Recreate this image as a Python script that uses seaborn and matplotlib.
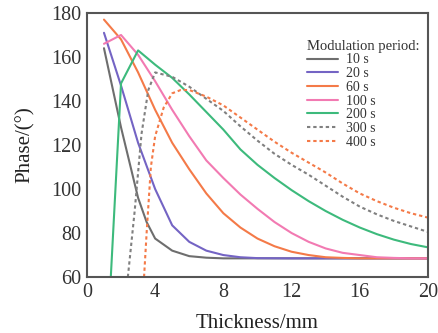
import matplotlib
matplotlib.use("Agg")
import matplotlib.pyplot as plt
import seaborn as sns
import pandas as pd

# ---- data ----
x_10 = [1, 2, 2.5, 3, 3.5, 4, 5, 6, 7, 8, 10, 12, 14, 16, 18, 20]
y_10 = [164, 128, 112, 96, 85, 77.5, 72, 69.5, 68.8, 68.5, 68.5, 68.5, 68.5, 68.5, 68.5, 68.5]

x_20 = [1, 2, 3, 4, 5, 6, 7, 8, 9, 10, 12, 14, 16, 18, 20]
y_20 = [171, 147, 121, 100, 83.5, 76, 72, 70, 69, 68.6, 68.5, 68.5, 68.5, 68.5, 68.5]

x_60 = [1, 2, 3, 4, 5, 6, 7, 8, 9, 10, 11, 12, 13, 14, 15, 16, 18, 20]
y_60 = [177, 168, 153, 136, 121, 109, 98, 89, 82.5, 77.5, 74, 71.5, 70, 69, 68.7, 68.5, 68.5, 68.5]

x_100 = [1, 2, 3, 4, 5, 6, 7, 8, 9, 10, 11, 12, 13, 14, 15, 16, 17, 18, 19, 20]
y_100 = [166, 170, 161, 149, 136, 124, 113, 105, 97.5, 91, 85, 80, 76, 73, 71, 70, 69, 68.7, 68.5, 68.5]

x_200 = [1.4, 2, 3, 4, 5, 6, 7, 8, 9, 10, 11, 12, 13, 14, 15, 16, 17, 18, 19, 20]
y_200 = [60, 148, 163, 156.5, 150.5, 143, 135, 127, 118, 111, 105, 99.5, 94.5, 90, 86, 82.5, 79.5, 77, 75, 73.5]

x_300 = [2.4, 2.8, 3.2, 3.6, 4, 5, 6, 7, 8, 9, 10, 11, 12, 13, 14, 15, 16, 17, 18, 19, 20]
y_300 = [60, 90, 125, 145, 153, 151, 146.5, 141, 135.5, 128.5, 122, 116, 111, 106.5, 101.5, 96.5, 92, 88.5, 85.5, 83, 80.5]

x_400 = [3.35, 3.5, 3.75, 4, 4.5, 5, 5.5, 6, 7, 8, 9, 10, 11, 12, 13, 14, 15, 16, 17, 18, 19, 20]
y_400 = [60, 80, 110, 124, 137, 143.5, 145, 145, 142, 138, 132.5, 127, 121.5, 116.5, 112, 107.5, 102.5, 98, 94.5, 91.5, 89, 87]

labels = ["10 s", "20 s", "60 s", "100 s", "200 s", "300 s", "400 s"]
xs = [x_10, x_20, x_60, x_100, x_200, x_300, x_400]
ys = [y_10, y_20, y_60, y_100, y_200, y_300, y_400]

x_ticks = [0, 4, 8, 12, 16, 20]
y_ticks = [60, 80, 100, 120, 140, 160, 180]

colors = ["#6e6e6e", "#7464c4", "#f47a48", "#f27ab2", "#3dba7c", "#808080", "#f47a48"]
styles = ["-", "-", "-", "-", "-", (0, (1.6, 1.4)), (0, (1.6, 1.4))]

sns.set_style("white")
plt.rcParams["font.family"] = ["Liberation Serif", "DejaVu Serif"]

fig = plt.figure(figsize=(4.39, 3.33), dpi=100)
ax = fig.add_axes([0.198, 0.168, 0.777, 0.793])

for xv, yv, lab, c, ls in zip(xs, ys, labels, colors, styles):
    df = pd.DataFrame({"x": xv, "y": yv})
    sns.lineplot(data=df, x="x", y="y", ax=ax, color=c, linestyle=ls,
                 linewidth=1.5, label=lab, sort=False, estimator=None)

ax.set_xlim(0, 20)
ax.set_ylim(60, 180)
ax.set_xticks(x_ticks)
ax.set_yticks(y_ticks)
ax.set_xticklabels([str(t) for t in x_ticks], fontsize=14.5)
ax.set_yticklabels([str(t) for t in y_ticks], fontsize=14.5)
ax.tick_params(direction="in", length=4, width=1.2, colors="#333333",
               top=False, right=False, pad=4)
ax.set_xlabel("Thickness/mm", fontsize=15, color="#222222", labelpad=9)
ax.set_ylabel("Phase/(°)", fontsize=15, color="#222222", labelpad=12)
for sp in ax.spines.values():
    sp.set_color("#555555")
    sp.set_linewidth(1.5)

leg = ax.legend(title="Modulation period:", loc="upper right",
                bbox_to_anchor=(1.0, 0.93), frameon=False,
                fontsize=10, title_fontsize=10.5, labelspacing=0.05,
                handlelength=2.2, handletextpad=0.6, borderaxespad=0.2)
leg._legend_box.align = "left"
for t in leg.get_texts():
    t.set_color("#333333")
leg.get_title().set_color("#333333")

fig.savefig("out.png", dpi=100)
